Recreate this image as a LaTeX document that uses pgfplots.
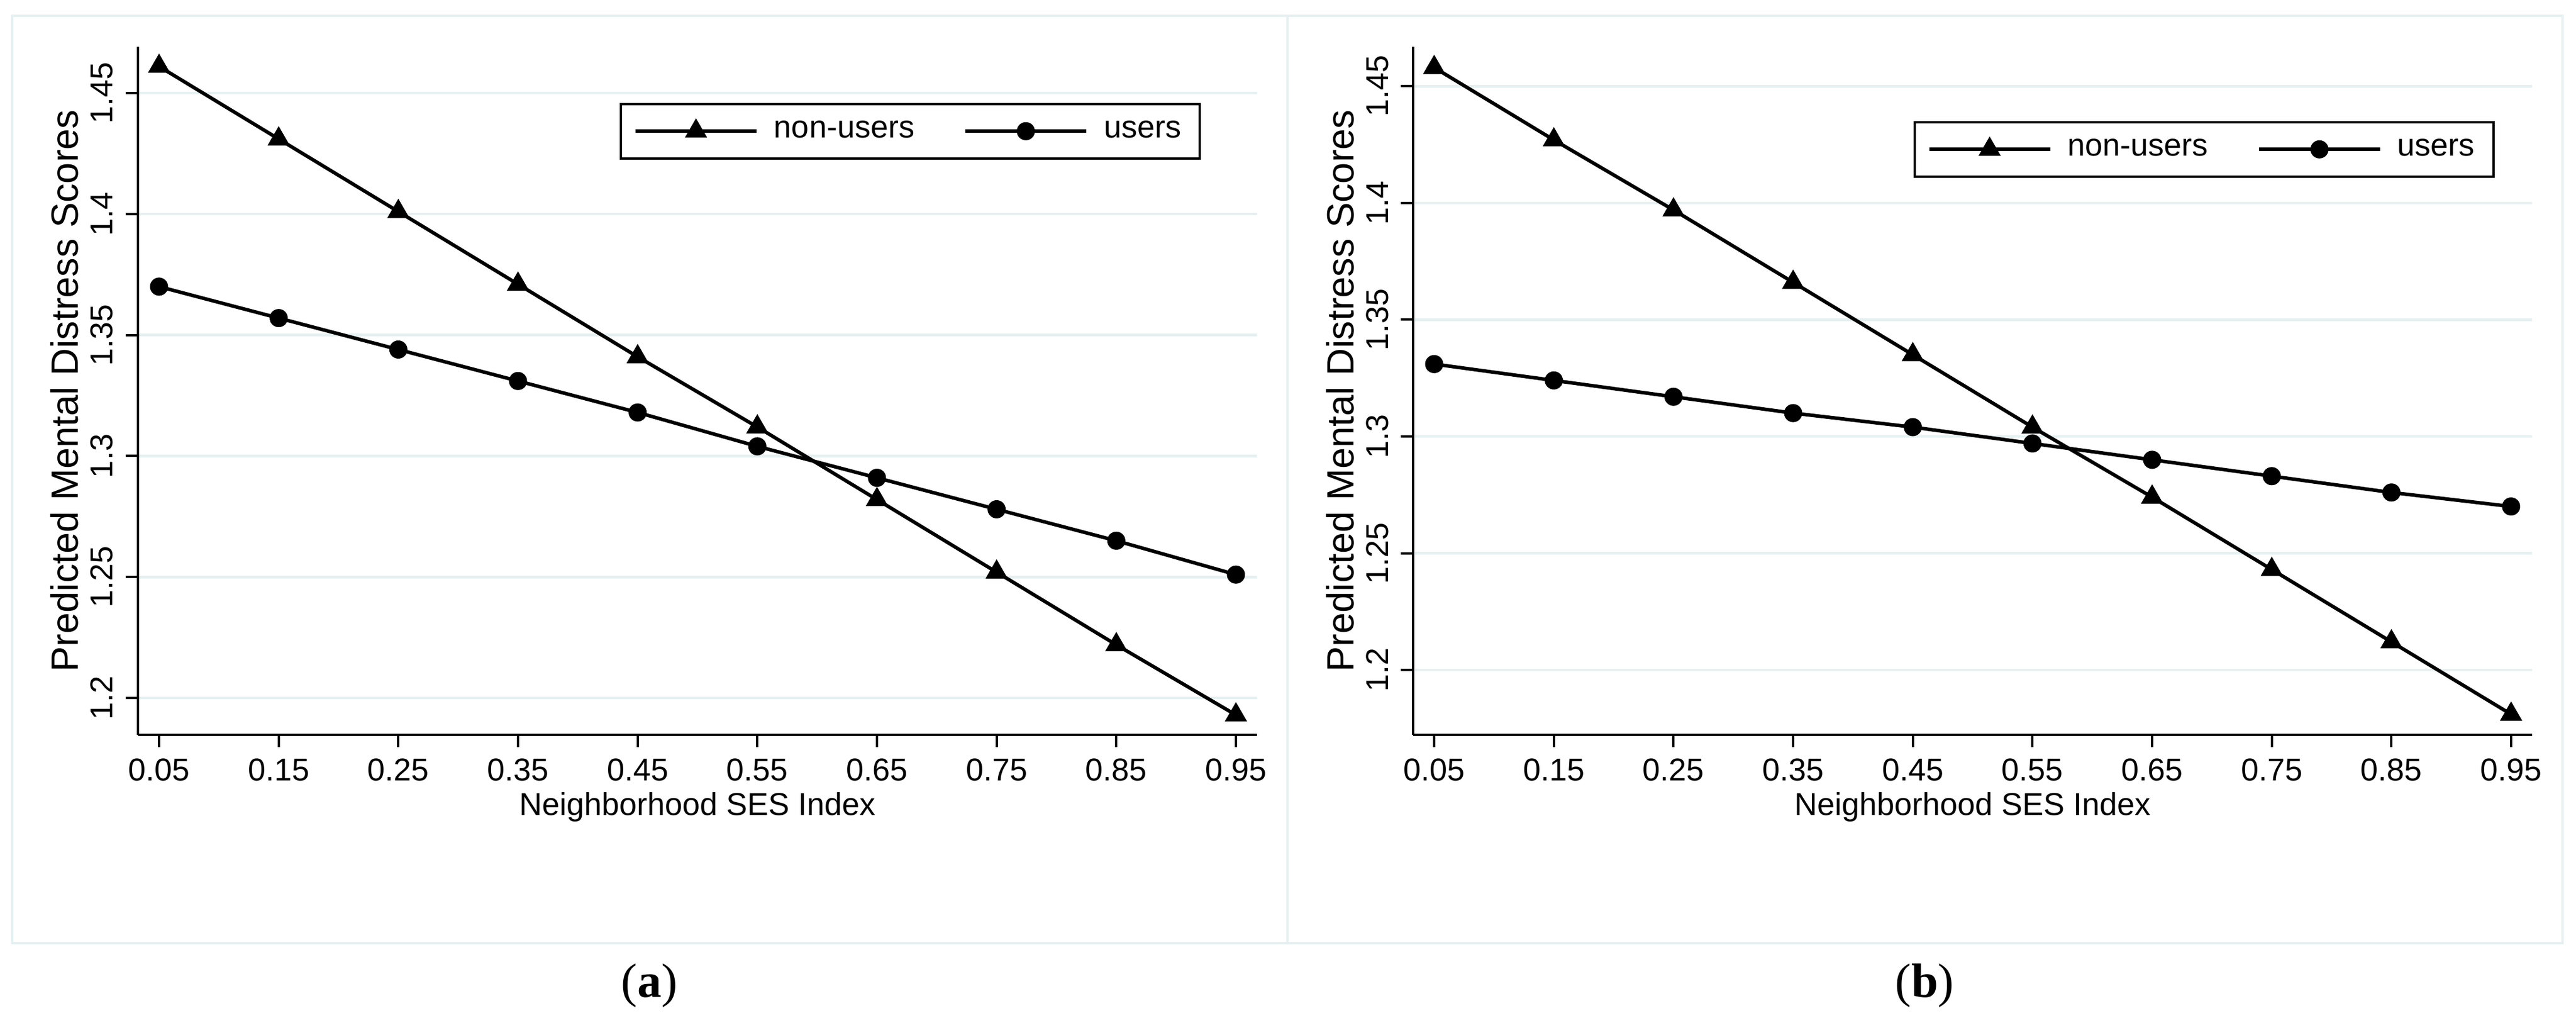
\documentclass[border=0pt]{standalone}
\usepackage{pgfplots}
\pgfplotsset{compat=1.18}
\usepackage{fontspec}
\setmainfont{Liberation Sans}
\newfontfamily\capfont{Liberation Serif}
\definecolor{gridc}{RGB}{230,240,241}

\pgfplotstableread{
x     nonusers users
0.05  1.461  1.370
0.15  1.431  1.357
0.25  1.401  1.344
0.35  1.371  1.331
0.45  1.341  1.318
0.55  1.312  1.304
0.65  1.282  1.291
0.75  1.252  1.278
0.85  1.222  1.265
0.95  1.193  1.251
}\dataA
\pgfplotstableread{
x     nonusers users
0.05  1.458  1.331
0.15  1.427  1.324
0.25  1.397  1.317
0.35  1.366  1.310
0.45  1.335  1.304
0.55  1.304  1.297
0.65  1.274  1.290
0.75  1.243  1.283
0.85  1.212  1.276
0.95  1.181  1.270
}\dataB

\pgfplotsset{
  panel/.style={
    scale only axis, width=382.8pt, height=235.2pt,
    axis x line*=bottom, axis y line*=left,
    axis line style={line width=0.8pt, black, -},
    xmin=0.0324, xmax=0.9676,
    xtick={0.05,0.15,0.25,0.35,0.45,0.55,0.65,0.75,0.85,0.95},
    xticklabels={0.05,0.15,0.25,0.35,0.45,0.55,0.65,0.75,0.85,0.95},
    ytick={1.2,1.25,1.3,1.35,1.4,1.45},
    yticklabels={1.2,1.25,1.3,1.35,1.4,1.45},
    /pgf/number format/assume math mode=true,
    tick align=outside, major tick length=4.2pt,
    every tick/.style={black, line width=0.8pt},
    ymajorgrids, major grid style={gridc, line width=0.9pt},
    xticklabel style={font=\fontsize{10.8}{12}\selectfont, inner sep=0pt, anchor=north},
    yticklabel style={font=\fontsize{10.8}{12}\selectfont, inner sep=0pt, rotate=90, anchor=base},
    xticklabel shift=3.8pt, yticklabel shift=4.4pt,
    every axis x label/.style={at={(axis description cs:0.5,-0.1173)}, anchor=base, font=\fontsize{10.8}{12}\selectfont},
    every axis y label/.style={at={(axis description cs:-0.0533,0.5)}, rotate=90, anchor=base, font=\fontsize{13}{15}\selectfont},
    xlabel={Neighborhood SES Index},
    ylabel={Predicted Mental Distress Scores},
    legend columns=2,
    legend image code/.code={\draw[mark repeat=2, mark phase=2, line width=1.2pt] plot coordinates {(0pt,0pt) (20.7pt,0pt) (41.4pt,0pt)};},
    legend style={anchor=north west, draw=black, line width=0.8pt, fill=white,
      inner xsep=4.4pt, inner ysep=3.6pt, font=\fontsize{10.8}{12}\selectfont,
      column sep=3.4pt, /tikz/every even column/.append style={column sep=14.8pt}},
    nu/.style={black, line width=1.2pt, mark=triangle*, mark size=4.2pt, mark options={solid, line width=0.2pt}},
    us/.style={black, line width=1.2pt, mark=*, mark size=3pt, mark options={solid, line width=0.2pt}},
  }
}

\begin{document}
\begin{tikzpicture}
\path[use as bounding box] (0pt,0pt) rectangle (881.2pt,348pt);
\draw[gridc, line width=0.8pt] (4.2pt,25.6pt) rectangle (440.4pt,342.6pt);
\draw[gridc, line width=0.8pt] (440.4pt,25.6pt) rectangle (876.6pt,342.6pt);

\begin{axis}[panel, at={(47.2pt,96.8pt)}, anchor=south west,
  ymin=1.1848, ymax=1.4691,
  legend style={at={(0.4305,0.9184)}}]
\addplot[nu] table[x=x, y=nonusers] {\dataA};
\addlegendentry{non-users}
\addplot[us] table[x=x, y=users] {\dataA};
\addlegendentry{users}
\end{axis}

\begin{axis}[panel, at={(483.4pt,96.8pt)}, anchor=south west,
  ymin=1.1722, ymax=1.4669,
  legend style={at={(0.447,0.892)}}]
\addplot[nu] table[x=x, y=nonusers] {\dataB};
\addlegendentry{non-users}
\addplot[us] table[x=x, y=users] {\dataB};
\addlegendentry{users}
\end{axis}

\node[font=\capfont\fontsize{16.5}{18}\selectfont] at (222.2pt,11pt) {(\textbf{a})};
\node[font=\capfont\fontsize{16.5}{18}\selectfont] at (658.4pt,11pt) {(\textbf{b})};
\end{tikzpicture}
\end{document}
